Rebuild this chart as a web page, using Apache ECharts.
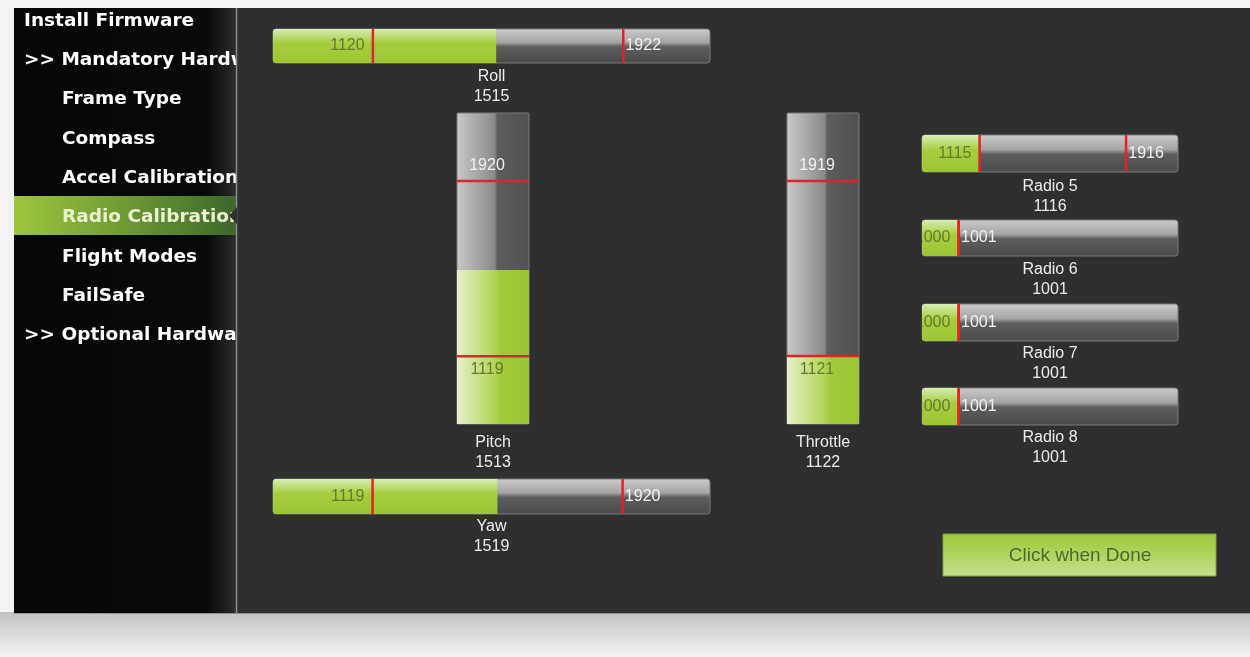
<!DOCTYPE html>
<html><head><meta charset="utf-8">
<script src="https://cdn.jsdelivr.net/npm/echarts@6/dist/echarts.min.js"></script>
<style>html,body{margin:0;padding:0;background:#f3f3f3;}#c{width:1250px;height:657px;}</style>
</head><body><div id="c"></div>
<script>
// ---- data ----
const channels = ['Roll', 'Pitch', 'Throttle', 'Yaw', 'Radio 5', 'Radio 6', 'Radio 7', 'Radio 8'];
const currentVals = [1515, 1513, 1122, 1519, 1116, 1001, 1001, 1001];
const minVals = [1120, 1119, 1121, 1119, 1115, 1000, 1000, 1000];
const maxVals = [1922, 1920, 1919, 1920, 1916, 1001, 1001, 1001];
const menuItems = ['Install Firmware', '>> Mandatory Hardware', 'Frame Type', 'Compass', 'Accel Calibration', 'Radio Calibration', 'Flight Modes', 'FailSafe', '>> Optional Hardware'];
const menuIndent = [0, 0, 1, 1, 1, 1, 1, 1, 0];
const activeMenu = 'Radio Calibration';
const buttonText = 'Click when Done';

// ---- layout (pixels) ----
const layout = [
  {dir: 'h', left: 273, top: 29, width: 437, height: 34, gap: 4},
  {dir: 'v', left: 457, top: 113, width: 72, height: 311, gap: 9},
  {dir: 'v', left: 787, top: 113, width: 72, height: 311, gap: 9},
  {dir: 'h', left: 273, top: 479, width: 437, height: 35, gap: 3},
  {dir: 'h', left: 922, top: 135, width: 256, height: 37, gap: 5},
  {dir: 'h', left: 922, top: 220, width: 256, height: 36, gap: 4},
  {dir: 'h', left: 922, top: 304, width: 256, height: 37, gap: 3},
  {dir: 'h', left: 922, top: 388, width: 256, height: 37, gap: 3}
];
const H_MIN = 800, H_MAX = 2200, V_MIN = 810, V_MAX = 2230;
const MAIN_BG = '#2e302f';
const RED = '#e3232a';

const lg = (x2, y2, stops) => new echarts.graphic.LinearGradient(0, 0, x2, y2, stops.map(s => ({offset: s[0], color: s[1]})));
const greenH = lg(0, 1, [[0, '#d8ecb2'], [0.42, '#a6cd3e'], [1, '#9cc535']]);
const grayH = lg(0, 1, [[0, '#cdcdcd'], [0.4, '#a4a4a4'], [0.52, '#5e5e5e'], [1, '#4a4a4a']]);
const greenV = lg(1, 0, [[0, '#e4f1c6'], [0.5, '#b4d65a'], [0.62, '#a1ca3a'], [1, '#9bc534']]);
const grayV = lg(1, 0, [[0, '#c9c9c9'], [0.3, '#a5a5a5'], [0.52, '#8a8a8a'], [0.56, '#5c5d5d'], [1, '#505151']]);

const grids = [], xAxes = [], yAxes = [], series = [];
const nameStyle = {color: '#ececec', fontSize: 16, lineHeight: 20, fontFamily: 'Liberation Sans'};
const hidden = {axisLine: {show: false}, axisTick: {show: false}, axisLabel: {show: false}, splitLine: {show: false}};
const minLabelColor = '#687a2a', maxLabelColor = '#f2f2f2';
const lblFont = {fontSize: 16, fontFamily: 'Liberation Sans'};

channels.forEach((ch, i) => {
  const L = layout[i];
  grids.push({left: L.left, top: L.top, width: L.width, height: L.height, containLabel: false});
  const title = ch + '\n' + currentVals[i];
  let marks;
  if (L.dir === 'h') {
    xAxes.push(Object.assign({type: 'value', gridIndex: i, min: H_MIN, max: H_MAX, name: title, nameLocation: 'middle', nameGap: L.gap, nameTextStyle: nameStyle}, hidden));
    yAxes.push(Object.assign({type: 'category', gridIndex: i, data: [ch], show: false}, hidden));
    marks = [
      {name: String(minVals[i]), value: [minVals[i], 0], symbolSize: [2.5, L.height],
        label: Object.assign({show: true, position: 'left', distance: 7, color: minLabelColor}, lblFont)},
      {name: String(maxVals[i]), value: [maxVals[i], 0], symbolSize: [2.5, L.height],
        label: Object.assign({show: true, position: 'right', distance: 1, color: maxLabelColor}, lblFont)}
    ];
  } else {
    xAxes.push(Object.assign({type: 'category', gridIndex: i, data: [ch], name: title, nameLocation: 'middle', nameGap: L.gap, nameTextStyle: nameStyle}, hidden));
    yAxes.push(Object.assign({type: 'value', gridIndex: i, min: V_MIN, max: V_MAX, show: false}, hidden));
    marks = [
      {name: String(minVals[i]), value: [0, minVals[i]], symbolSize: [L.width, 2.5],
        label: Object.assign({show: true, position: 'bottom', distance: 4, offset: [-6, 0], color: minLabelColor}, lblFont)},
      {name: String(maxVals[i]), value: [0, maxVals[i]], symbolSize: [L.width, 2.5],
        label: Object.assign({show: true, position: 'top', distance: 6, offset: [-6, 0], color: maxLabelColor}, lblFont)}
    ];
  }
  series.push({
    type: 'bar', name: ch, xAxisIndex: i, yAxisIndex: i, z: 10,
    data: [currentVals[i]], barWidth: '100%', barCategoryGap: '0%',
    itemStyle: {color: L.dir === 'h' ? greenH : greenV, borderRadius: L.dir === 'h' ? [3, 0, 0, 3] : 0},
    showBackground: true,
    backgroundStyle: {color: L.dir === 'h' ? grayH : grayV, borderRadius: L.dir === 'h' ? 3 : 1, borderColor: '#7a7a7a', borderWidth: 1},
    label: {show: false}, silent: true, animation: false
  });
  series.push({
    type: 'scatter', name: ch + ' limits', xAxisIndex: i, yAxisIndex: i, z: 12,
    symbol: 'rect', itemStyle: {color: RED, opacity: 1},
    label: {formatter: '{b}'},
    data: marks, silent: true, animation: false, clip: false
  });
});

// ---- graphic chrome (negative z keeps it beneath axes/series) ----
const g = [];
g.push({type: 'rect', z: -30, shape: {x: 0, y: 612, width: 1250, height: 45}, style: {fill: lg(0, 1, [[0, '#c2c2c2'], [1, '#f4f4f4']])}});
g.push({type: 'rect', z: -29, shape: {x: 14, y: 8, width: 223, height: 606},
  style: {fill: lg(1, 0, [[0, '#050608'], [0.86, '#07080a'], [1, '#2c2d2e']])}});
const activeIdx = menuItems.indexOf(activeMenu);
g.push({type: 'rect', z: -28, shape: {x: 14, y: 196, width: 222, height: 39},
  style: {fill: lg(1, 0, [[0, '#9ec63c'], [0.5, '#6f9a34'], [1, '#3f662c']])}});
menuItems.forEach((t, k) => {
  g.push({type: 'text', z: -27, x: menuIndent[k] ? 62 : 24, y: 21 + k * 39.3,
    style: {text: t, fill: k === activeIdx ? '#e9f3d2' : '#ffffff', font: 'bold 18.5px "DejaVu Sans", sans-serif', textVerticalAlign: 'middle'}});
});
g.push({type: 'rect', z: -20, shape: {x: 237, y: 8, width: 1013, height: 605}, style: {fill: MAIN_BG}});
g.push({type: 'line', z: -19, shape: {x1: 236.5, y1: 8, x2: 236.5, y2: 614}, style: {stroke: '#8c8c8c', lineWidth: 1.5}});
g.push({type: 'polygon', z: -19, shape: {points: [[237, 207], [229, 215.5], [237, 224]]}, style: {fill: MAIN_BG}});
g.push({type: 'rect', z: -19, shape: {x: 14, y: 613, width: 1236, height: 1}, style: {fill: '#8f8f8f'}});
// button
g.push({type: 'rect', z: -18, shape: {x: 943, y: 534, width: 273, height: 42},
  style: {fill: lg(0, 1, [[0, '#9ec736'], [1, '#c6e08e']]), stroke: '#7ea33a', lineWidth: 1}});
g.push({type: 'text', z: -17, x: 1080, y: 556,
  style: {text: buttonText, fill: '#4e6a2a', font: '19px "Liberation Sans", Arial, sans-serif', textAlign: 'center', textVerticalAlign: 'middle'}});
// clip overflowing min labels left of radio bars
[5, 6, 7].forEach(i => {
  const L = layout[i];
  g.push({type: 'rect', z: 50, shape: {x: 895, y: L.top, width: L.left - 895 - 0.5, height: L.height}, style: {fill: MAIN_BG}});
});

const chart = echarts.init(document.getElementById('c'), null, {renderer: 'canvas'});
chart.setOption({
  backgroundColor: '#f3f3f3',
  animation: false,
  textStyle: {fontFamily: 'Liberation Sans'},
  grid: grids, xAxis: xAxes, yAxis: yAxes, series: series,
  graphic: {elements: g}
});
</script></body></html>
